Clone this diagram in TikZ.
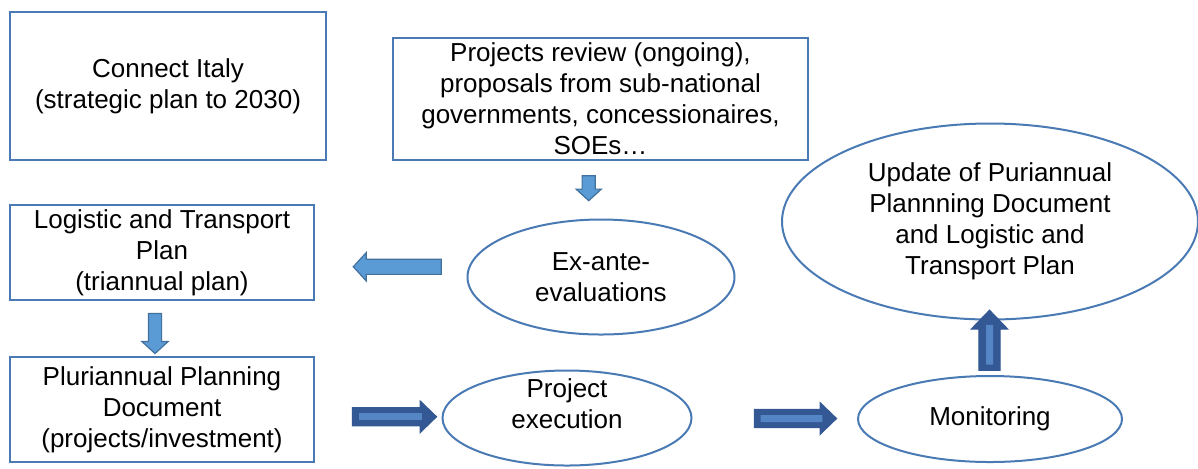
\documentclass[tikz,border=0pt]{standalone}
\usepackage{fontspec}
\setmainfont{Liberation Sans}
\usetikzlibrary{positioning,calc,shapes.geometric,shapes.arrows}
\definecolor{boxblue}{RGB}{74,122,180}
\definecolor{arrowfill}{RGB}{91,155,213}
\definecolor{arrowline}{RGB}{65,113,156}
\definecolor{darkfill}{RGB}{52,88,148}
\definecolor{darkinner}{RGB}{84,134,198}

\begin{document}
\begin{tikzpicture}[
    x=0.5pt, y=-0.5pt,
    every node/.style={font=\fontsize{13}{15.5}\selectfont, align=center},
    plainbox/.style={rectangle, draw=boxblue, line width=1pt, inner sep=0pt},
    oval/.style={ellipse, draw=boxblue, line width=1pt, inner sep=0pt},
    lightarrow/.style={
        single arrow, draw=arrowline, fill=arrowfill, line width=0.6pt,
        inner sep=0pt, inner ysep=3pt, single arrow head extend=3.25pt,
        single arrow tip angle=95
    },
    darkarrow/.style={
        single arrow, draw=darkfill, fill=darkfill, line width=0.6pt,
        inner sep=0pt, inner ysep=4.25pt, single arrow head extend=3.25pt,
        single arrow tip angle=88, minimum height=42pt
    },
    stripe/.style={darkinner, line width=3.5pt}
]
\useasboundingbox (0,0) rectangle (1198,468);

% boxes on the left and top
\node[plainbox, minimum width=158pt, minimum height=74pt] (italy) at (168,86)
    {Connect Italy\\(strategic plan to 2030)};
\node[plainbox, minimum width=207.5pt, minimum height=61pt] (review) at (600.5,99)
    {Projects review (ongoing),\\proposals from sub-national\\governments, concessionaires,\\SOEs\dots};
\node[plainbox, minimum width=152pt, minimum height=47.5pt] (logistic) at (162,252.5)
    {Logistic and Transport\\Plan\\(triannual plan)};
\node[plainbox, minimum width=152pt, minimum height=52.5pt] (pluri) at (162,409.5)
    {Pluriannual Planning\\Document\\(projects/investment)};

% ellipses
\node[oval, minimum width=133.5pt, minimum height=57.5pt] (exante) at (601,277)
    {Ex-ante-\\evaluations};
\node[oval, minimum width=124.5pt, minimum height=47.5pt,
      label={[yshift=7pt, align=center]center:Project\\execution}] (exec) at (567,418) {};
\node[oval, minimum width=132pt, minimum height=43pt] (monitor) at (990,419)
    {Monitoring};
\node[oval, minimum width=208pt, minimum height=98pt] (update) at (990,221.5)
    {Update of Puriannual\\Plannning Document\\and Logistic and\\Transport Plan};

% block arrows
\node[lightarrow, rotate=-90, minimum height=12.5pt, single arrow head extend=3pt]
    (a1) at ($(review.south)!0.42!(exante.north)+(-12,0)$) {};
\node[lightarrow, rotate=180, minimum height=44pt, inner ysep=3.5pt]
    (a2) at ($(logistic.east)!0.5!(exante.west)+(10,2)$) {};
\node[lightarrow, rotate=-90, minimum height=20pt]
    (a3) at ($(logistic.south)!0.5!(pluri.north)+(-7,2)$) {};

\node[darkarrow] (a4) at ($(pluri.east)!0.5!(exec.west)+(11.5,3)$) {};
\draw[stripe] ($(a4.tail)!0.08!(a4.tip)$) -- ($(a4.tail)!0.82!(a4.tip)$);
\node[darkarrow, minimum height=41pt] (a5) at ($(exec.east)!0.5!(monitor.west)+(16,0)$) {};
\draw[stripe] ($(a5.tail)!0.08!(a5.tip)$) -- ($(a5.tail)!0.82!(a5.tip)$);
\node[darkarrow, rotate=90, minimum height=30pt, inner ysep=5pt,
      single arrow head extend=3.75pt] (a6) at ($(monitor.north)!0.5!(update.south)+(-0.5,-2)$) {};
\draw[stripe] ($(a6.tail)!0.1!(a6.tip)$) -- ($(a6.tail)!0.75!(a6.tip)$);
\end{tikzpicture}
\end{document}
